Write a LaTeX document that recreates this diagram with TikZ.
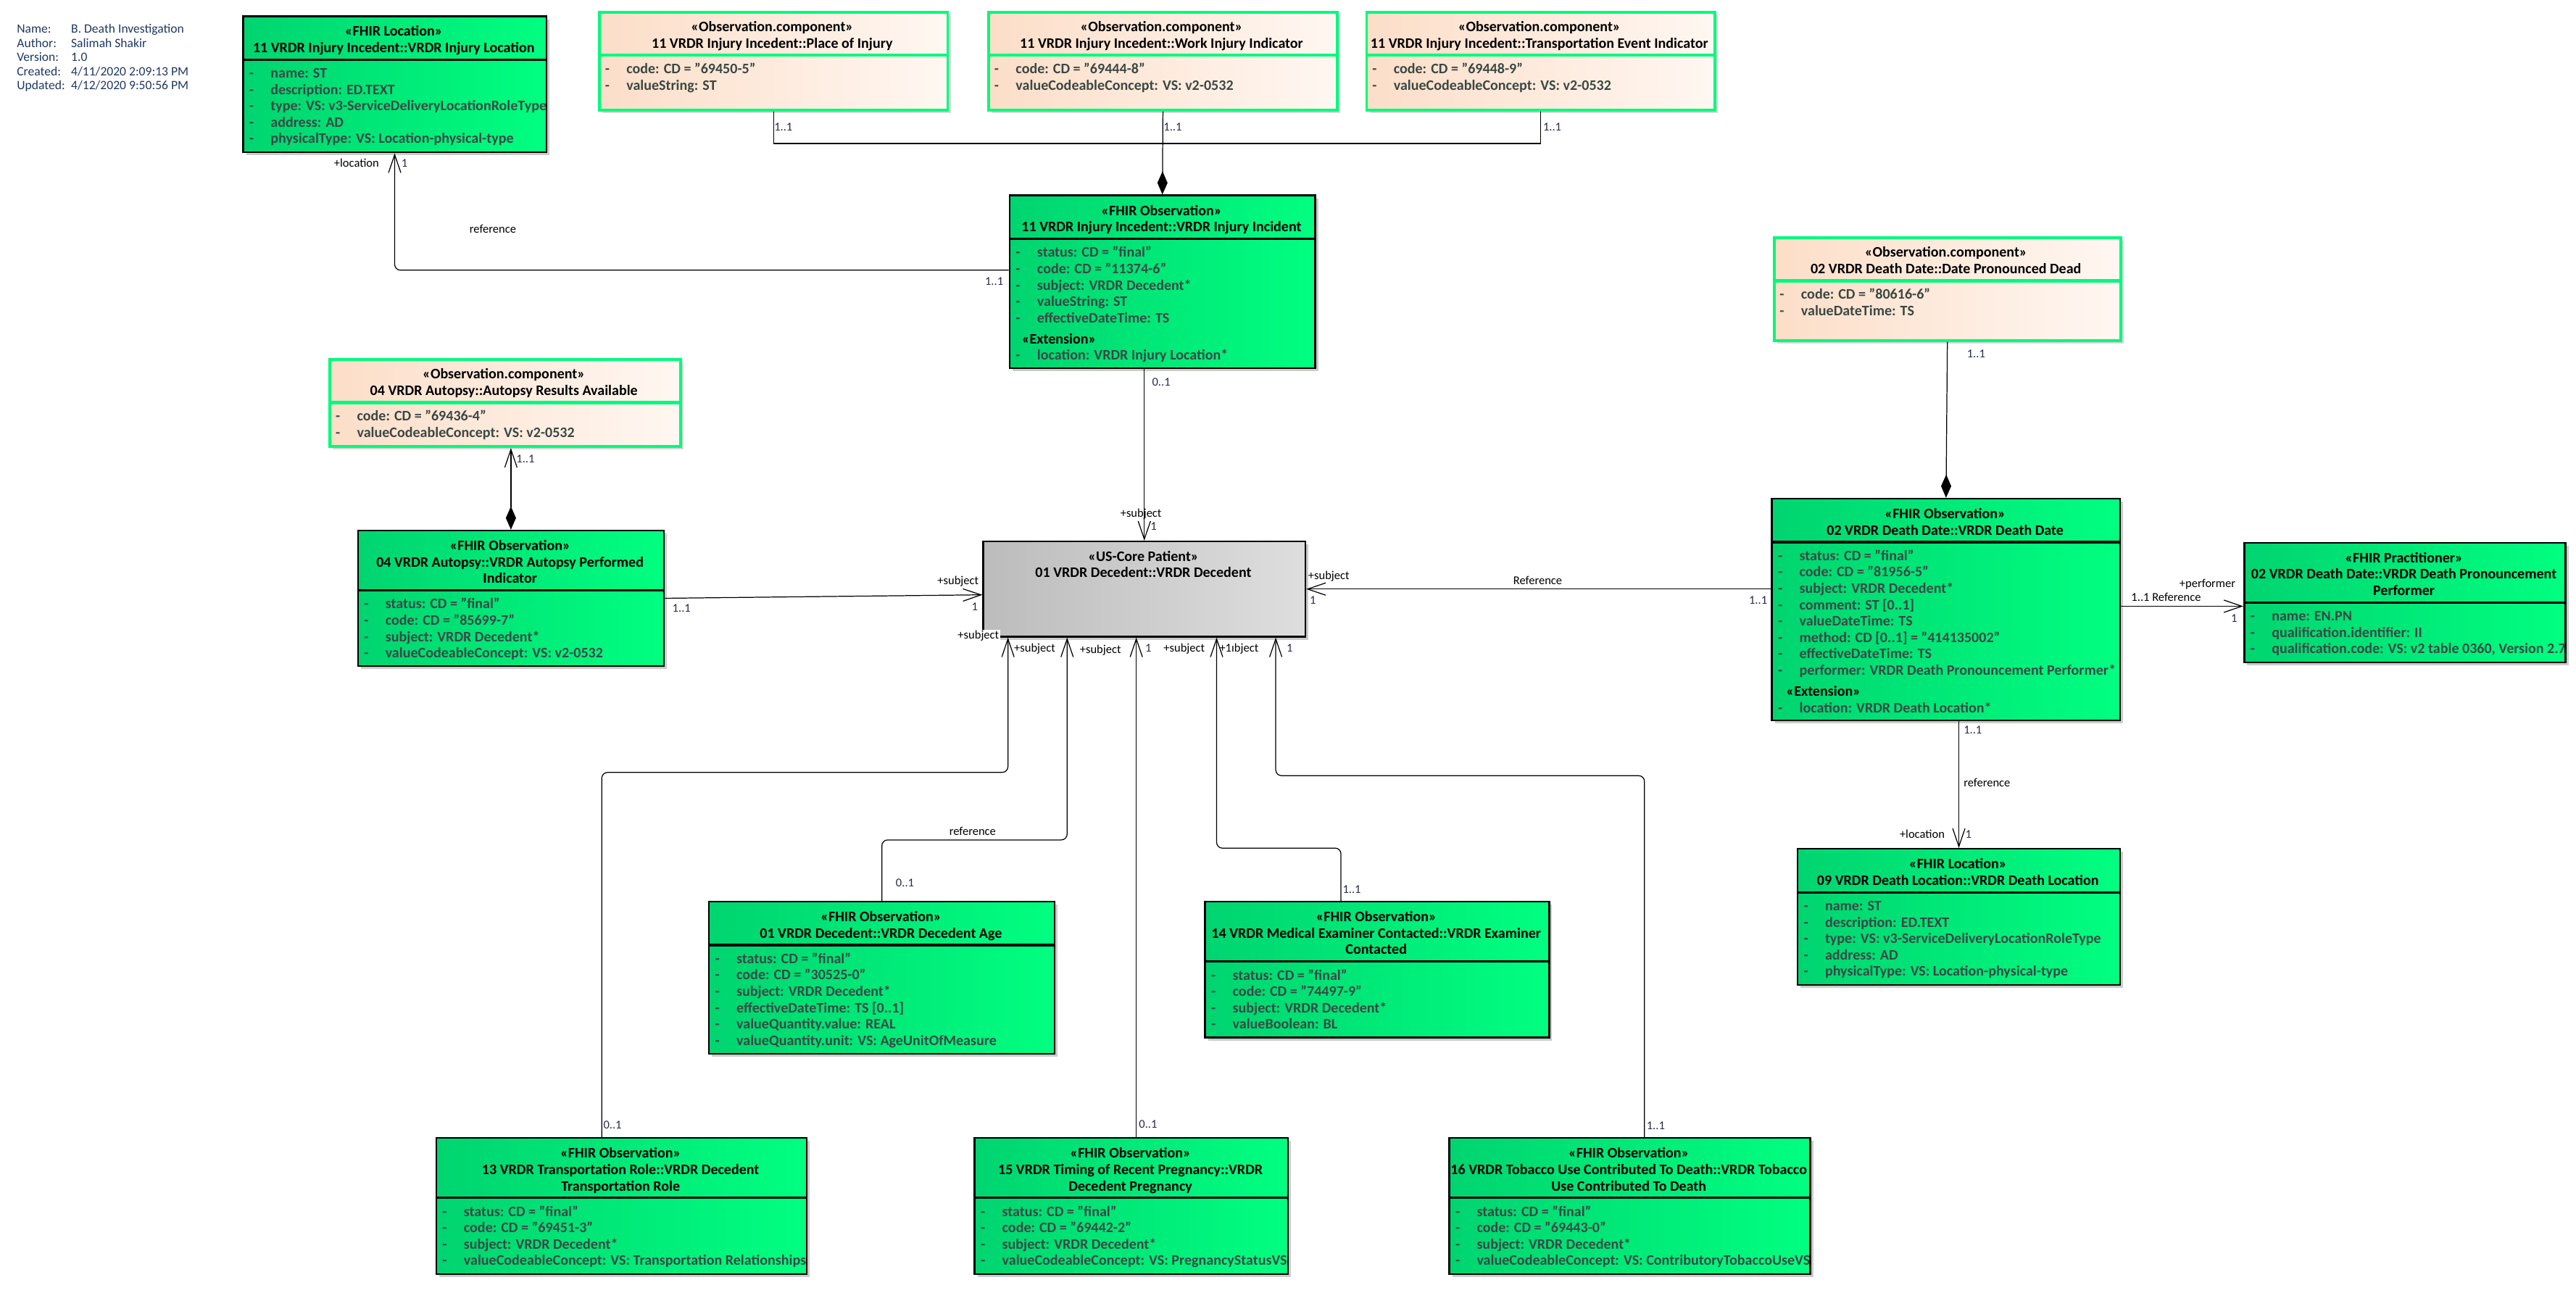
\documentclass[tikz,border=0pt]{standalone}
\usepackage{fontspec}
\setmainfont{Carlito}
\usetikzlibrary{arrows.meta,shadows}

\definecolor{fhirL}{RGB}{0,212,112}
\definecolor{fhirR}{RGB}{0,255,128}
\definecolor{compL}{RGB}{252,222,200}
\definecolor{compR}{RGB}{255,247,242}
\definecolor{compG}{RGB}{0,250,125}
\definecolor{patL}{RGB}{188,188,188}
\definecolor{patR}{RGB}{222,222,222}
\definecolor{attrC}{RGB}{58,72,68}
\definecolor{metaC}{RGB}{32,56,100}
\definecolor{multC}{RGB}{40,40,80}

\newcommand{\px}{0.022666cm}
\newcommand{\attrdash}{\makebox[0.295cm][l]{-}}

\tikzset{
  fhir/.style={draw=black, line width=0.7pt, left color=fhirL, right color=fhirR,
    drop shadow={shadow xshift=1.2pt, shadow yshift=-1.2pt, fill=black!40, opacity=0.5}},
  fhir sep/.style={draw=black, line width=0.9pt},
  comp/.style={draw=compG, line width=1.1pt, left color=compL, right color=compR,
    drop shadow={shadow xshift=1.2pt, shadow yshift=-1.2pt, fill=black!40, opacity=0.4}},
  comp sep/.style={draw=compG, line width=1.3pt},
  pat/.style={draw=black, line width=0.7pt, left color=patL, right color=patR,
    drop shadow={shadow xshift=1.2pt, shadow yshift=-1.2pt, fill=black!40, opacity=0.5}},
  headtxt/.style={font=\fontsize{5.7}{6.45}\selectfont\bfseries, inner sep=0pt},
  attrtxt/.style={font=\fontsize{5.7}{6.45}\selectfont\bfseries, text=attrC, inner sep=0pt},
  lbl/.style={font=\fontsize{4.7}{5.5}\selectfont, inner sep=0pt, text height=3.2pt, text depth=0.9pt},
  mult/.style={lbl, text=multC},
  conn/.style={draw, line width=0.35pt},
  assoc/.style={conn, -{Straight Barb[length=0.25cm, width=0.17cm]}},
  compos/.style={conn, -{Diamond[length=0.32cm, width=0.14cm]}},
}

% name, style, left, top, right, bottom, title lines, header, attributes
\newcommand{\umlclass}[9]{%
  \node[#2, anchor=north west, inner sep=0pt, minimum width={(#5-#3)*\px}, minimum height={(#6-#4)*\px}] (#1) at (#3,#4) {};
  \foreach \txt [count=\k] in {#8}
    \node[headtxt, anchor=base] (#1-h\k) at ({(#3+#5)/2},{#4+10*\k+2.7}) {\txt};
  \draw[#2 sep] (#3,{#4+17+10*#7}) -- (#5,{#4+17+10*#7});
  \foreach \txt [count=\k] in {#9}
    \node[attrtxt, anchor=base west] (#1-a\k) at ({#3+4},{#4+28.2+10*#7+9.95*(\k-1)}) {\attrdash\txt};
}

\begin{document}
\begin{tikzpicture}[x=\px, y=-\px]
\path[fill=white, use as bounding box] (0,0) rectangle (1568,795);

% Diagram info
\node[font=\fontsize{5}{5.53}\selectfont, text=metaC, inner sep=0pt, anchor=base west] (info) at (10,20.2)
  {\begin{tabular}[t]{@{}p{0.748cm}@{}l@{}}Name: & B. Death Investigation\\Author: & Salimah Shakir\\Version: & 1.0\\Created: & 4/11/2020 2:09:13 PM\\Updated: & 4/12/2020 9:50:56 PM\end{tabular}};

% Classes
\umlclass{locInj}{fhir}{147.4}{9.3}{332}{92.2}{1}
  {«FHIR Location», 11 VRDR Injury Incedent::VRDR Injury Location}
  {name: ST, description: ED.TEXT, type: VS: v3-ServiceDeliveryLocationRoleType, address: AD, physicalType: VS: Location-physical-type}
\umlclass{placeInj}{comp}{364}{6.6}{576}{66.2}{1}
  {«Observation.component», 11 VRDR Injury Incedent::Place of Injury}
  {code: CD = "69450-5", valueString: ST}
\umlclass{workInj}{comp}{601}{6.6}{813}{66.2}{1}
  {«Observation.component», 11 VRDR Injury Incedent::Work Injury Indicator}
  {code: CD = "69444-8", valueCodeableConcept: VS: v2-0532}
\umlclass{transInj}{comp}{831}{6.6}{1043}{66.2}{1}
  {«Observation.component», 11 VRDR Injury Incedent::Transportation Event Indicator}
  {code: CD = "69448-9", valueCodeableConcept: VS: v2-0532}
\umlclass{injInc}{fhir}{614}{118.4}{800}{223.5}{1}
  {«FHIR Observation», 11 VRDR Injury Incedent::VRDR Injury Incident}
  {status: CD = "final", code: CD = "11374-6", subject: VRDR Decedent*, valueString: ST, effectiveDateTime: TS}
\node[headtxt, anchor=base west] (injInc-ext) at (621.7,209.3) {«Extension»};
\node[attrtxt, anchor=base west] (injInc-loc) at (618,218.9) {\attrdash location: VRDR Injury Location*};
\umlclass{autRes}{comp}{200}{218}{413.4}{271}{1}
  {«Observation.component», 04 VRDR Autopsy::Autopsy Results Available}
  {code: CD = "69436-4", valueCodeableConcept: VS: v2-0532}
\umlclass{autPerf}{fhir}{217.3}{322.4}{403.6}{404.9}{2}
  {«FHIR Observation», 04 VRDR Autopsy::VRDR Autopsy Performed, Indicator}
  {status: CD = "final", code: CD = "85699-7", subject: VRDR Decedent*, valueCodeableConcept: VS: v2-0532}
\node[pat, anchor=north west, inner sep=0pt, minimum width=196*\px, minimum height=57.9*\px] (patient) at (598,329.1) {};
\node[headtxt, anchor=base] (patient-h1) at (696,341.7) {«US-Core Patient»};
\node[headtxt, anchor=base] (patient-h2) at (696,351.2) {01 VRDR Decedent::VRDR Decedent};
\umlclass{dateComp}{comp}{1079}{143.9}{1290}{206.5}{1}
  {«Observation.component», 02 VRDR Death Date::Date Pronounced Dead}
  {code: CD = "80616-6", valueDateTime: TS}
\umlclass{deathDate}{fhir}{1078}{303}{1290}{438}{1}
  {«FHIR Observation», 02 VRDR Death Date::VRDR Death Date}
  {status: CD = "final", code: CD = "81956-5", subject: VRDR Decedent*, comment: ST [0..1], valueDateTime: TS, method: CD [0..1] = "414135002", effectiveDateTime: TS, performer: VRDR Death Pronouncement Performer*}
\node[headtxt, anchor=base west] (deathDate-ext) at (1087,423.7) {«Extension»};
\node[attrtxt, anchor=base west] (deathDate-loc) at (1082,433.7) {\attrdash location: VRDR Death Location*};
\umlclass{pract}{fhir}{1365.5}{329.8}{1561}{402.8}{2}
  {«FHIR Practitioner», 02 VRDR Death Date::VRDR Death Pronouncement, Performer}
  {name: EN.PN, qualification.identifier: II, {qualification.code: VS: v2 table 0360, Version 2.7}}
\umlclass{deathLoc}{fhir}{1093.6}{516.2}{1290}{599}{1}
  {«FHIR Location», 09 VRDR Death Location::VRDR Death Location}
  {name: ST, description: ED.TEXT, type: VS: v3-ServiceDeliveryLocationRoleType, address: AD, physicalType: VS: Location-physical-type}
\umlclass{age}{fhir}{431}{548.3}{641.5}{641}{1}
  {«FHIR Observation», 01 VRDR Decedent::VRDR Decedent Age}
  {status: CD = "final", code: CD = "30525-0", subject: VRDR Decedent*, effectiveDateTime: TS [0..1], valueQuantity.value: REAL, valueQuantity.unit: VS: AgeUnitOfMeasure}
\umlclass{exam}{fhir}{733}{548.3}{942.4}{631.1}{2}
  {«FHIR Observation», 14 VRDR Medical Examiner Contacted::VRDR Examiner, Contacted}
  {status: CD = "final", code: CD = "74497-9", subject: VRDR Decedent*, valueBoolean: BL}
\umlclass{trans13}{fhir}{265}{692.2}{490.5}{775}{2}
  {«FHIR Observation», 13 VRDR Transportation Role::VRDR Decedent, Transportation Role}
  {status: CD = "final", code: CD = "69451-3", subject: VRDR Decedent*, valueCodeableConcept: VS: Transportation Relationships}
\umlclass{preg15}{fhir}{592.7}{692.2}{783.5}{775}{2}
  {«FHIR Observation», 15 VRDR Timing of Recent Pregnancy::VRDR, Decedent Pregnancy}
  {status: CD = "final", code: CD = "69442-2", subject: VRDR Decedent*, valueCodeableConcept: VS: PregnancyStatusVS}
\umlclass{tob16}{fhir}{881.6}{692.2}{1101.3}{775}{2}
  {«FHIR Observation», 16 VRDR Tobacco Use Contributed To Death::VRDR Tobacco, Use Contributed To Death}
  {status: CD = "final", code: CD = "69443-0", subject: VRDR Decedent*, valueCodeableConcept: VS: ContributoryTobaccoUseVS}

% Injury incident
\draw[conn] (placeInj.south) -- ++(0,19.5) -| (transInj.south);
\draw[compos] (workInj.south) -- (injInc.north);
\draw[assoc, rounded corners=0.08cm] ([shift={(0,-7)}]injInc.west) -| (locInj.south);

% Autopsy
\draw[conn, {Straight Barb[length=0.25cm, width=0.17cm]}-{Diamond[length=0.32cm, width=0.14cm]}] (autPerf.north |- autRes.south) -- (autPerf.north);

% Death date
\draw[compos] (dateComp.south) -- (deathDate.north);
\coordinate (ddR) at ([shift={(0,-2)}]deathDate.east);
\draw[assoc] (ddR) -- (ddR -| pract.west);
\draw[assoc] (deathLoc.north |- deathDate.south) -- (deathLoc.north);

% Subjects
\draw[assoc] (patient.north |- injInc.south) -- (patient.north);
\draw[assoc] (autPerf.east) -- ([shift={(0,3.5)}]patient.west);
\draw[assoc] (deathDate.west |- patient.east) -- (patient.east);
\draw[assoc, rounded corners=0.08cm] ([shift={(-12,0)}]trans13.north) -- ++(0,-222) -| ([shift={(-83,0)}]patient.south);
\draw[assoc, rounded corners=0.08cm] (age.north) -- ++(0,-37) -| ([shift={(-47,0)}]patient.south);
\coordinate (pregTop) at ([shift={(3,0)}]preg15.north);
\draw[assoc] (pregTop) -- (pregTop |- patient.south);
\draw[assoc, rounded corners=0.08cm] ([shift={(-22,0)}]exam.north) -- ++(0,-32) -| ([shift={(44,0)}]patient.south);
\draw[assoc, rounded corners=0.08cm] ([shift={(9,0)}]tob16.north) -- ++(0,-220) -| ([shift={(80,0)}]patient.south);

% Labels
\node[mult, anchor=west] (m1) at (471,78) {1..1};
\node[mult, anchor=west] (m2) at (708,78) {1..1};
\node[mult, anchor=west] (m3) at (939,78) {1..1};
\node[lbl, anchor=east] (r1) at (231,100) {+location};
\node[mult, anchor=west] (m4) at (244,100) {1};
\node[lbl] (r2) at (300,140) {reference};
\node[mult, anchor=east] (m5) at (611,172) {1..1};
\node[mult, anchor=west] (m6) at (701,233) {0..1};
\node[lbl] (r3) at (694.5,313) {+subject};
\node[mult, anchor=west] (m7) at (700,321) {1};
\node[mult, anchor=west] (m8) at (314,280) {1..1};
\node[lbl, anchor=east] (r4) at (596,354) {+subject};
\node[mult, anchor=east] (m9) at (595.5,370) {1};
\node[mult, anchor=west] (m10) at (409,371) {1..1};
\node[lbl, anchor=west] (r5) at (796,351) {+subject};
\node[mult, anchor=west] (m11) at (797,366) {1};
\node[lbl] (r6) at (936,354) {Reference};
\node[mult, anchor=east] (m12) at (1076,366) {1..1};
\node[lbl, anchor=east] (r7) at (1361,356) {+performer};
\node[lbl, anchor=west] (r8) at (1297,364) {1..1 Reference};
\node[mult, anchor=east] (m13) at (1362,377) {1};
\node[mult, anchor=west] (m14) at (1197,216) {1..1};
\node[mult, anchor=west] (m15) at (1195,445) {1..1};
\node[lbl, anchor=west] (r9) at (1195,477) {reference};
\node[lbl, anchor=east] (r10) at (1184,508.6) {+location};
\node[mult, anchor=west] (m16) at (1196,508.6) {1};
\node[lbl] (r11) at (592,506.5) {reference};
\node[mult, anchor=west] (m17) at (545,538) {0..1};
\node[mult, anchor=west] (m18) at (817,542) {1..1};
\node[mult, anchor=west] (m19) at (367,685.5) {0..1};
\node[mult, anchor=west] (m20) at (693,685) {0..1};
\node[mult, anchor=west] (m21) at (1002,685.6) {1..1};
\node[lbl, anchor=east, fill=white, inner sep=0.4pt] (r12) at (609,387) {+subject};
\node[lbl, anchor=west] (r13) at (617,395) {+subject};
\node[lbl, anchor=west] (r14) at (657,396) {+subject};
\node[mult] (m22) at (699,395) {1};
\node[lbl, anchor=west] (r15) at (708,395) {+subject};
\node[lbl, anchor=west] (r16) at (742,395) {+1ıbject};
\node[mult] (m24) at (785,395) {1};
\end{tikzpicture}
\end{document}
